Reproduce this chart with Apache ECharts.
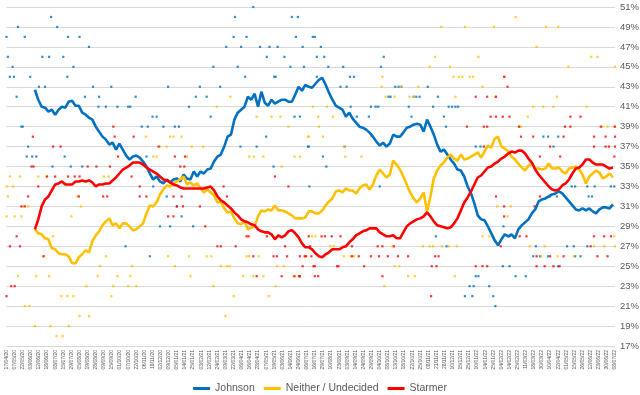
<!DOCTYPE html>
<html><head><meta charset="utf-8">
<script src="https://cdn.jsdelivr.net/npm/echarts@6/dist/echarts.min.js"></script>
<style>html,body{margin:0;padding:0;background:#fff}#c{width:640px;height:395px}</style>
</head><body><div id="c"></div>
<script>
// x axis: poll position, 12 units between consecutive date labels
const tickLabels = ['17/04/20','07/05/20','22/05/20','03/06/20','12/06/20','18/06/20','08/07/20','15/07/20','29/07/20','05/08/20',
'19/08/20','28/08/20','09/09/20','15/09/20','01/10/20','07/10/20','22/10/20','06/11/20','18/11/20','02/12/20',
'09/12/20','05/01/21','14/01/21','25/01/21','03/02/21','12/02/21','24/02/21','09/03/21','22/03/21','06/04/21',
'16/04/21','28/04/21','07/05/21','19/05/21','03/06/21','14/06/21','24/06/21','06/07/21','16/07/21','29/07/21',
'10/08/21','23/08/21','03/09/21','14/09/21','24/09/21','29/09/21','04/10/21','08/10/21','13/10/21','18/10/21',
'22/10/21','25/10/21','08/11/21','21/11/21','28/11/21','10/12/21','15/12/21','25/12/21','10/01/22','14/01/22',
'25/01/22','04/02/22','14/02/22','25/02/22','11/03/22','18/03/22','30/03/22','10/04/22','22/04/22','01/05/22',
'15/05/22','26/05/22','12/06/22','23/06/22','30/06/22','08/07/22'];
const unitsPerLabel = 12;
const lineStart = 42, lineStep = 5;

const johnson = [42.7,41.7,41.0,40.9,40.5,40.7,40.2,40.7,41.0,40.9,
41.5,41.6,41.1,41.1,40.4,40.2,39.9,39.7,39.0,38.5,
38.0,37.7,37.2,37.4,36.7,37.3,36.7,36.1,35.7,36.0,
36.1,35.9,35.5,35.0,34.3,33.7,34.0,33.5,33.3,33.7,
33.4,33.7,33.8,33.5,34.2,33.8,33.7,34.5,34.0,34.5,
34.3,34.7,34.8,35.5,36.0,36.2,37.0,38.0,38.2,39.7,
40.4,40.7,41.0,42.0,41.7,42.3,41.0,42.5,41.4,41.1,
41.7,41.3,41.5,41.7,41.7,41.5,41.5,42.2,43.0,42.6,
43.2,43.0,42.9,43.3,43.7,43.9,43.2,42.4,41.7,41.1,
40.9,40.7,40.0,40.4,39.8,39.4,39.0,38.9,38.7,38.4,
38.0,37.5,37.1,37.4,37.0,37.3,38.2,38.0,38.0,38.4,
38.9,39.0,39.2,39.3,39.2,38.5,39.7,39.0,38.2,37.2,
36.5,36.7,36.2,35.7,35.3,34.7,34.6,34.0,33.0,32.3,
31.3,30.1,29.7,29.6,29.0,28.3,27.6,27.1,27.7,28.2,
28.0,28.2,27.8,28.7,29.1,29.4,29.7,30.3,30.7,31.5,
31.7,31.8,32.0,32.2,32.3,32.5,32.3,31.9,31.5,31.1,
30.7,30.6,30.8,30.6,30.8,30.5,30.3,30.7,30.9,30.9,
30.8,31.2];

const neither = [28.7,28.3,28.2,27.8,27.7,26.8,26.7,26.3,26.2,26.2,
26.0,25.3,25.3,25.9,26.2,26.6,26.4,27.5,28.1,28.5,
29.1,29.5,29.8,29.1,29.3,28.8,29.3,29.3,29.0,28.6,
28.7,29.0,29.3,30.3,31.1,31.0,31.4,32.2,32.7,33.1,
33.0,33.3,33.5,33.7,34.0,33.2,33.4,33.1,33.3,32.8,
32.4,32.7,32.4,32.1,31.4,31.5,30.8,30.4,30.5,29.8,
29.3,29.2,29.5,28.7,28.9,29.0,30.0,30.6,30.5,30.7,
30.6,31.1,30.6,30.6,30.5,30.3,30.1,29.8,29.8,29.8,
29.9,30.5,30.5,30.3,30.3,30.6,31.1,31.5,31.8,32.5,
32.6,32.4,32.8,32.6,32.6,32.3,32.8,33.1,33.2,32.7,
33.2,34.1,34.7,34.3,33.9,34.2,35.6,35.2,34.7,34.0,
33.2,32.4,31.8,31.4,31.8,32.4,30.5,32.0,33.8,34.6,
35.1,35.4,35.9,36.2,35.8,35.6,36.2,35.7,35.8,36.0,
36.2,36.4,35.9,36.5,37.1,36.9,37.8,38.0,37.0,36.8,
36.5,36.0,35.7,35.3,34.9,34.6,35.1,35.3,34.8,34.8,
34.7,34.8,35.3,34.8,34.8,34.9,34.5,34.3,34.8,34.9,
35.0,34.7,34.2,33.3,34.0,34.3,34.6,34.4,33.8,34.0,
34.3,33.9];

const starmer = [28.7,29.7,31.0,31.7,32.0,32.6,33.2,33.3,33.5,33.2,
33.2,33.2,33.5,33.5,33.6,33.5,33.6,33.4,33.0,33.2,
33.2,33.3,33.3,33.6,33.9,34.3,34.7,34.9,35.1,35.4,
35.4,35.4,35.2,34.9,34.7,34.5,34.3,34.0,33.7,33.6,
33.4,33.2,33.1,32.9,32.8,32.8,32.8,32.8,32.8,32.8,
32.8,32.9,33.0,32.6,32.0,31.6,31.4,31.1,30.8,30.4,
30.1,29.7,29.5,29.4,29.2,29.1,28.7,28.5,28.4,28.4,
28.2,27.7,28.1,27.9,28.1,28.5,28.6,28.3,27.9,27.3,
26.9,26.9,26.7,26.3,26.0,25.9,26.2,26.4,26.7,26.7,
26.7,26.9,27.0,27.4,27.7,28.1,28.3,28.5,28.6,28.8,
28.8,28.8,28.4,28.2,28.0,28.0,28.1,27.8,27.8,28.4,
29.0,29.3,29.5,29.7,29.8,30.0,30.4,30.0,29.5,29.1,
29.0,28.9,28.8,28.9,29.3,29.8,30.6,31.4,31.9,32.5,
33.2,33.9,34.1,34.5,34.9,35.0,35.3,35.5,35.8,36.0,
36.3,36.5,36.4,36.6,36.6,36.3,35.8,35.4,34.7,34.2,
33.8,33.4,33.0,32.7,32.6,32.7,33.1,33.3,33.7,34.3,
34.8,34.9,35.2,35.7,35.7,35.4,35.2,35.2,35.2,35.0,
34.8,34.9];

// individual polls: [poll position, share %]
const johnsonPolls = [[0,48],[17,49],[27,48],[2,46],[9,45],[5,44],[11,44],[15,42],[22,39],[24,39],[32,37],[30,36],[38,36],[44,36],[35,44],[48,43],[57,43],[53,46],[63,46],[66,50],[75,49],[84,46],[91,48],[108,48],[90,44],[99,45],[122,47],[116,42],[128,43],[137,42],[136,41],[147,41],[155,43],[164,41],[180,41],[183,41],[191,42],[200,39],[209,39],[216,40],[222,40],[232,39],[239,43],[249,39],[255,39],[270,41],[286,43],[280,42],[296,42],[306,45],[302,40],[316,43],[325,47],[338,50],[336,48],[347,47],[355,48],[365,51],[375,47],[389,47],[401,47],[411,46],[385,46],[422,50],[431,50],[428,48],[420,45],[438,47],[440,45],[453,48],[456,48],[459,46],[459,44],[396,44],[398,44],[353,44],[342,45],
[68,35],[86,36],[95,35],[112,35],[207,36],[217,33],[237,32],[252,31],[259,30],[276,29],[227,29],[242,29],[176,27],[212,26],[346,37],[370,37],[384,38],[395,35],[448,33],[447,37],[434,40],[426,40],
[465,47],[470,46],[476,45],[498,45],[508,44],[514,44],[494,43],[503,43],[446,37],[468,36],[473,35],[500,37],[509,41],[518,40],[536,40],[539,41],[546,41],[550,41],[554,45],[558,46],[565,42],[568,42],[575,43],[580,43],[584,43],[595,41],[599,40],[602,42],[606,42],[611,42],[623,43],[631,41],[638,42],[647,40],[650,39],[654,41],[659,41],[664,41],[668,41],[701,37],[694,37],[552,33],[635,28],[651,27],[694,24],[698,24],[685,23],[691,23],[714,23],[678,22],[689,22],[720,22],[723,21],[734,25],[744,25],[753,24],[768,24],[735,29],[779,26],[789,26],[801,26],[816,25],[783,27],[794,38],[801,38],[816,38],[809,37],[829,27],[839,27],[859,27],[836,33],[841,33],[859,33],[870,33],[894,33],[899,33],[841,26],[849,26],[804,32],[814,32],[861,32],[866,32]];

const neitherPolls = [[5,34],[0,33],[10,33],[2,32],[0,30],[12,30],[22,30],[25,31],[32,31],[17,24],[27,21],[34,21],[42,19],[20,34],[47,34],[59,34],[44,24],[63,24],[69,28],[81,22],[90,22],[99,22],[74,18],[83,18],[65,19],[92,19],[108,20],[122,20],[54,26],[96,30],[105,32],[110,31],[118,23],[135,24],[138,25],[147,26],[158,23],[155,22],[164,24],[180,23],[183,24],[186,25],[192,23],[206,38],[217,36],[222,36],[227,37],[242,38],[247,38],[237,37],[259,38],[274,37],[291,37],[267,36],[239,26],[249,25],[272,24],[270,26],[296,26],[303,26],[317,25],[326,25],[330,25],[306,23],[324,20],[336,22],[350,24],[365,24],[380,24],[355,26],[359,26],[373,26],[388,22],[400,25],[410,25],[398,23],[425,24],[432,24],[442,26],[452,28],[457,28],[331,42],[311,41],[370,40],[392,40],[405,40],[417,39],[426,36],[447,38],[462,39],[453,41],[359,36],[366,36],[380,36],[407,35],[144,34],[151,34],
[434,36],[446,38],[468,38],[461,40],[483,40],[474,41],[499,37],[501,36],[525,36],[539,38],[556,44],[555,43],[561,42],[574,42],[583,43],[596,42],[603,42],[609,43],[626,45],[634,46],[643,49],[656,45],[661,44],[669,44],[674,44],[685,44],[690,44],[664,42],[678,49],[698,46],[704,43],[721,49],[723,42],[737,44],[753,50],[761,39],[771,40],[779,41],[794,41],[809,41],[784,47],[798,49],[816,49],[814,42],[831,45],[858,41],[865,46],[874,46],[900,45],[881,39],[889,39],[899,39],[759,39],
[559,23],[604,24],[594,24],[663,24],[574,25],[581,25],[499,26],[509,26],[514,26],[479,27],[484,27],[571,27],[616,27],[626,27],[631,27],[644,27],[654,27],[666,27],[704,28],[714,28],[774,27],[796,27],[839,26],[869,27],[884,27],[900,27],[899,28],[791,26],[815,26],[726,31],[746,31],[741,30]];

const starmerPolls = [[0,22],[7,23],[12,23],[15,28],[5,27],[20,27],[22,31],[27,31],[32,32],[39,38],[37,35],[40,35],[47,33],[55,26],[60,34],[72,34],[69,37],[80,37],[91,34],[101,34],[108,34],[107,32],[120,35],[133,35],[153,35],[158,39],[160,38],[165,36],[143,32],[149,32],[188,38],[185,34],[197,33],[197,32],[207,32],[225,37],[226,34],[249,36],[257,35],[263,35],[264,36],[259,32],[247,32],[252,31],[239,30],[247,30],[261,31],[286,31],[294,29],[285,33],[312,27],[317,27],[321,33],[326,32],[339,27],[355,28],[358,28],[365,26],[370,24],[385,28],[395,26],[400,26],[407,24],[412,27],[415,26],[417,33],[426,24],[433,24],[434,24],[447,28],[443,26],[454,25],[456,24],[397,34],
[434,26],[441,26],[451,26],[449,27],[456,25],[461,24],[438,25],[466,28],[471,28],[489,25],[491,25],[529,25],[481,28],[494,28],[511,26],[521,26],[539,26],[551,26],[564,26],[579,26],[594,26],[634,26],[639,26],[511,27],[549,27],[556,27],[573,27],[556,24],[628,22],[629,25],[636,25],[694,25],[704,25],[711,25],[731,27],[744,28],[759,28],[769,28],[784,25],[796,25],[809,25],[818,25],[784,26],[804,26],[824,26],[874,26],[889,26],[864,27],[869,28],[884,28],[894,28],[736,31],[736,30],[781,31],[789,32],[724,32],
[681,39],[706,39],[711,39],[758,39],[826,39],[834,39],[879,39],[900,39],[694,42],[711,42],[724,42],[716,40],[724,40],[734,40],[744,40],[834,40],[849,40],[736,44],[741,43],[761,38],[779,38],[824,38],[869,38],[886,38],[900,38],[804,37],[869,37],[886,37],[891,37],[900,37],[706,37],[789,36],[819,36],[899,36]];

const BLUE = '#0070C0', YELLOW = '#FFC000', RED = '#FF0000';
const toLine = arr => arr.map((v, k) => [lineStart + k * lineStep, v]);
const FONT = 'Liberation Sans';

const chart = echarts.init(document.getElementById('c'), null, {renderer: 'canvas'});
const dot = (name, data, color) => ({
  name, type: 'scatter', data, symbol: 'rect', symbolSize: 2.2, silent: true,
  itemStyle: {color}, z: 2
});
const line = (name, data, color) => ({
  name, type: 'line', data: toLine(data), showSymbol: false, symbol: 'none', smooth: false,
  lineStyle: {color, width: 2.6}, itemStyle: {color}, z: 3
});
chart.setOption({
  animation: false,
  backgroundColor: '#ffffff',
  grid: {left: 6.5, right: 25, top: 7, bottom: 49, containLabel: false, outerBoundsMode: 'none'},
  xAxis: {
    type: 'value', min: 0, max: (tickLabels.length - 1) * unitsPerLabel, interval: unitsPerLabel,
    axisLine: {show: false}, axisTick: {show: false}, splitLine: {show: false},
    axisLabel: {
      rotate: 90, fontSize: 5, color: '#595959', fontFamily: FONT, margin: 4,
      showMinLabel: true, showMaxLabel: true, hideOverlap: false,
      formatter: v => (v % unitsPerLabel === 0 ? (tickLabels[v / unitsPerLabel] || '') : '')
    }
  },
  yAxis: {
    type: 'value', position: 'right', min: 17, max: 51, interval: 2,
    axisLine: {show: false}, axisTick: {show: false},
    splitLine: {lineStyle: {color: '#D9D9D9', width: 1}},
    axisLabel: {formatter: '{value}%', color: '#595959', fontSize: 9.5, fontFamily: FONT, margin: 5}
  },
  legend: {
    data: ['Johnson', 'Neither / Undecided', 'Starmer'],
    top: 378, left: 'center', icon: 'rect', itemWidth: 17, itemHeight: 3, itemGap: 9,
    textStyle: {color: '#595959', fontSize: 10.5, fontFamily: FONT}
  },
  series: [
    dot('Johnson polls', johnsonPolls, BLUE),
    dot('Neither polls', neitherPolls, YELLOW),
    dot('Starmer polls', starmerPolls, RED),
    line('Johnson', johnson, BLUE),
    line('Neither / Undecided', neither, YELLOW),
    line('Starmer', starmer, RED)
  ]
});
</script></body></html>
